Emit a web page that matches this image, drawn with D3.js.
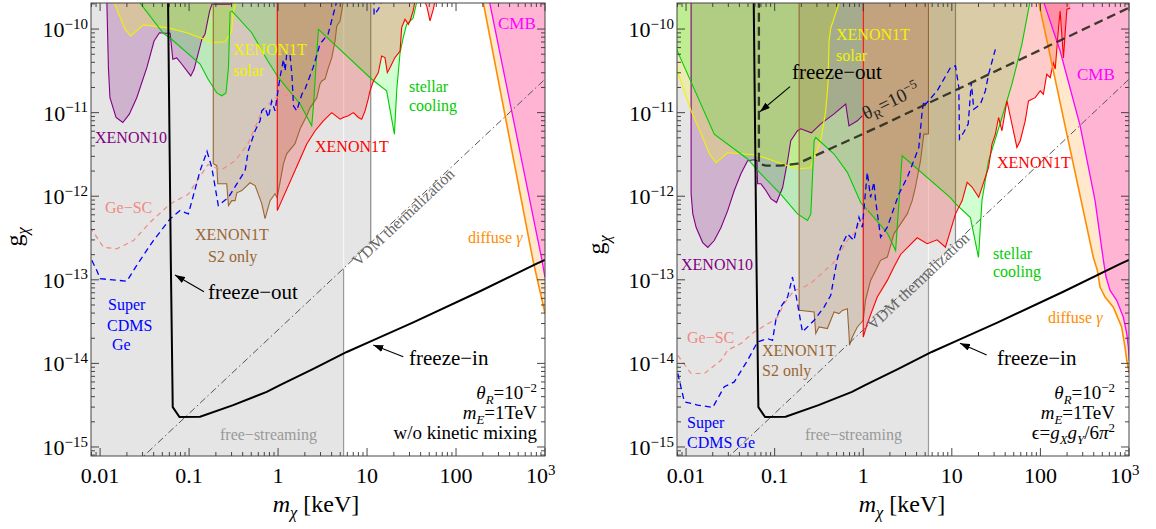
<!DOCTYPE html>
<html><head><meta charset="utf-8">
<script src="https://cdnjs.cloudflare.com/ajax/libs/d3/7.8.5/d3.min.js"></script>
<style>body{margin:0;background:#fff} text{font-family:"Liberation Serif","Times New Roman",serif}</style>
</head><body><svg id="c" width="1156" height="529" font-family="Liberation Serif, Times New Roman, serif"></svg>
<script>
// ---------- axis data ----------
const xTicks=[0.01,0.1,1,10,100,1000];
const xTickLabels=[["0.01"],["0.1"],["1"],["10"],["100"],["10",{t:"3",sup:1}]];
const yTicks=[1e-15,1e-14,1e-13,1e-12,1e-11,1e-10];
const yTickExp=["−15","−14","−13","−12","−11","−10"];
const mDomain=[0.0079,1000], gDomain=[7.8e-16,2.05e-10];
const G_TOP=1e-9;

// ---------- shared curves ----------
const freezeCurve=[[0.058,2.3e-10],[0.0623,1.71e-13],[0.0655,3.0e-15],[0.078,2.28e-15],[0.133,2.3e-15],[0.313,3.17e-15],[0.746,4.57e-15],[1.05,5.5e-15],[2.49,8.6e-15],[5.92,1.37e-14],[11.8,1.9e-14],[33.1,3.1e-14],[186,7.3e-14],[807,1.56e-13],[1000,1.73e-13]];
const vdmLine=[[0.005,1.26e-16],[2000,5.02e-11]];
const freeStreaming=[[0.005,1e-16],[5.45,1e-16],[5.45,1.37e-13],[11,2.76e-13],[11,1e-9],[0.005,1e-9]];

// ---------- left panel (w/o kinetic mixing) ----------
const xenon10L=[[0.0119,2.2e-10],[0.0124,3.45e-11],[0.0129,1.51e-11],[0.0151,8.75e-12],[0.0180,7.62e-12],[0.0213,9.6e-12],[0.0258,1.51e-11],[0.0335,3.45e-11],[0.0404,7.19e-11],[0.0464,9.04e-11],[0.0537,8.9e-11],[0.0612,8.9e-11],[0.0656,4.35e-11],[0.0727,4.52e-11],[0.0830,3.79e-11],[0.1045,2.75e-11],[0.1138,3.3e-11],[0.139,7.53e-11],[0.151,8.71e-11],[0.170,1.64e-10],[0.181,1.99e-10],[0.212,1.99e-10],[0.289,1.99e-10],[0.337,2.2e-10]];
const solarL=[[0.0140,2.2e-10],[0.0191,9.9e-11],[0.0221,8.25e-11],[0.0307,1.12e-10],[0.0561,1.04e-10],[0.0942,9.04e-11],[0.133,7.88e-11],[0.186,6.9e-11],[0.254,7.05e-11],[0.302,9.46e-11],[0.312,1.5e-10],[0.337,2.2e-10]];
const stellarL=[[0.0267,2.2e-10],[0.0510,8.96e-11],[0.0612,7.81e-11],[0.133,3.82e-11],[0.163,2.53e-11],[0.205,1.72e-11],[0.233,1.59e-11],[0.260,1.72e-11],[0.277,3.45e-11],[0.289,1.6e-10],[0.304,1.64e-10],[0.506,9.04e-11],[0.746,4.35e-11],[1.01,2.62e-11],[1.77,1.27e-11],[2.39,6.95e-12],[2.49,1.15e-11],[2.84,9.9e-11],[11.3,2.51e-11],[16.6,1.82e-11],[20.3,5.53e-12],[21.6,1.91e-11],[23.5,5.21e-11],[25.5,7.88e-11],[27.9,1.14e-10],[32.9,1.35e-10],[36.5,2.2e-10]];
const s2L=[[0.187,2.2e-10],[0.187,2.45e-12],[0.205,2.32e-12],[0.210,1.41e-12],[0.265,1.41e-12],[0.277,7.73e-13],[0.302,8.86e-13],[0.329,8.86e-13],[0.344,1.10e-12],[0.391,1.17e-12],[0.484,1.45e-12],[0.552,1.34e-12],[0.656,8.17e-13],[0.714,5.41e-13],[0.813,8.86e-13],[0.925,1.07e-12],[0.975,9.62e-13],[1.0,1.10e-12],[1.15,2.45e-12],[1.25,3.22e-12],[1.55,4.25e-12],[1.77,6.41e-12],[2.10,9.16e-12],[2.29,1.14e-11],[2.72,1.50e-11],[2.96,2.21e-11],[3.10,2.39e-11],[3.38,2.53e-11],[3.67,3.43e-11],[4.01,4.51e-11],[4.37,7.19e-11],[4.57,1.09e-10],[4.97,1.25e-10],[5.20,1.64e-10],[5.42,2.2e-10]];
const x1tL=[[0.98,2.2e-10],[0.98,6.73e-13],[1.77,2.79e-12],[2.10,4.21e-12],[2.61,6.07e-12],[3.23,7.98e-12],[4.01,1.0e-11],[4.97,8.36e-12],[5.42,8.75e-12],[6.17,9.16e-12],[7.02,1.0e-11],[7.98,8.75e-12],[8.71,8.36e-12],[9.50,1.05e-11],[10.3,1.45e-11],[10.8,1.82e-11],[11.8,2.39e-11],[13.4,3.01e-11],[14.6,4.76e-11],[15.9,4.56e-11],[16.9,3.01e-11],[18.1,3.45e-11],[20.6,4.56e-11],[23.5,5.46e-11],[24.5,1.04e-10],[26.7,1.31e-10],[29.1,1.14e-10],[30.4,1.25e-10],[32.9,1.64e-10],[34.6,2.16e-10],[40.4,2.69e-10],[46.9,1.88e-10],[51.0,1.25e-10],[55.6,1.73e-10],[59.6,2.48e-10]];
const cdmsL=[[0.00807,1.71e-13],[0.00918,1.29e-13],[0.01,1.03e-13],[0.0200,9.64e-14],[0.0258,1.49e-13],[0.0281,1.71e-13],[0.0397,2.95e-13],[0.0612,5.36e-13],[0.0792,6.73e-13],[0.0982,6.15e-13],[0.133,2.02e-12],[0.159,3.44e-12],[0.180,2.21e-12],[0.213,7.73e-13],[0.277,9.7e-13],[0.426,2.02e-12],[0.463,3.5e-12],[0.552,6.07e-12],[0.628,7.98e-12],[0.656,1.05e-11],[0.714,1.15e-11],[0.778,8.75e-12],[0.849,1.38e-11],[0.925,1.05e-11],[0.96,1.38e-11],[1.05,2.62e-11],[1.15,4.35e-11],[1.20,3.15e-11],[1.25,4.99e-11],[1.36,4.99e-11],[1.43,2.88e-11],[1.49,1.21e-11],[1.62,1.05e-11],[1.85,1.66e-11],[2.01,1.92e-11],[2.47,3.43e-11],[2.96,6.62e-11],[3.65,8.71e-11],[4.57,2.16e-10],[6.73,5.5e-10],[9.50,1.03e-9],[10.8,1.09e-9],[11.8,5.97e-10],[12.0,1.47e-10],[13.4,1.73e-10],[15.0,2.22e-10],[16.3,6.8e-10]];
const gescL=[[0.00772,4.26e-13],[0.0109,2.45e-13],[0.0154,2.35e-13],[0.0237,2.95e-13],[0.0365,4.88e-13],[0.0612,8.09e-13],[0.0982,1.06e-12],[0.1167,1.41e-12],[0.163,2.4e-12],[0.196,2.2e-12],[0.235,2.1e-12],[0.329,2.66e-12],[0.460,4.25e-12],[0.661,1.05e-11],[0.925,1.5e-11],[1.14,1.59e-11],[1.55,1.67e-11],[2.01,1.92e-11]];
const diffuseL=[[191,2.84e-10],[201,2.16e-10],[733,1.71e-13],[1000,3.97e-14]];
const cmbL=[[225,2.84e-10],[237,2.16e-10],[925,1.71e-13],[1000,1.07e-13]];

// ---------- right panel (kinetic mixing) ----------
const xenon10R=[[0.0114,2.2e-10],[0.0114,1.07e-12],[0.0119,6.2e-13],[0.0130,4.22e-13],[0.0154,2.79e-13],[0.0176,2.44e-13],[0.0208,2.95e-13],[0.0248,4.22e-13],[0.0295,6.73e-13],[0.0350,1.17e-12],[0.0416,1.86e-12],[0.0495,2.66e-12],[0.0588,2.73e-12],[0.0631,2.66e-12],[0.0642,1.41e-12],[0.0699,1.41e-12],[0.0796,1.17e-12],[0.0906,9.36e-13],[0.105,8.4e-13],[0.123,1.27e-12],[0.140,2.66e-12],[0.152,4.61e-12],[0.181,6.07e-12],[0.197,6.41e-12],[0.260,5.74e-12],[0.331,7.35e-12],[0.468,9.68e-12],[0.634,1.27e-11],[0.690,6.95e-12],[0.858,7.98e-12],[0.977,9.16e-12]];
const solarR=[[0.00678,5.17e-11],[0.0114,1.05e-11],[0.0148,5.58e-12],[0.0183,3.22e-12],[0.0218,2.52e-12],[0.0295,3.31e-12],[0.0588,3.14e-12],[0.0832,2.81e-12],[0.140,2.32e-12],[0.181,2.13e-12],[0.256,2.19e-12],[0.279,2.89e-12],[0.331,4.61e-12],[0.377,1.05e-11],[0.400,2.21e-11],[0.411,7.19e-11],[0.430,1.03e-10],[0.489,1.55e-10],[0.547,2.2e-10]];
const stellarR=[[0.00678,8.03e-11],[0.0208,5.53e-12],[0.0495,2.79e-12],[0.0699,1.85e-12],[0.117,1.06e-12],[0.181,6.15e-13],[0.235,5.12e-13],[0.256,6.15e-13],[0.279,4.61e-12],[0.291,5.04e-12],[0.468,3.2e-12],[0.662,1.93e-12],[0.935,8.4e-13],[1.32,5.6e-13],[1.88,3.58e-13],[2.32,2.24e-13],[2.75,3.05e-12],[9.64,9.62e-13],[11.0,8.17e-13],[16.2,5.56e-13],[20.0,1.85e-13],[21.9,8.86e-13],[26.0,2.66e-12],[36.8,8.75e-12],[47.7,2.19e-11],[61.8,6.57e-11],[76.7,2.2e-10]];
const s2R=[[0.189,2.2e-10],[0.189,4.31e-14],[0.279,4.12e-14],[0.291,2.28e-14],[0.317,2.73e-14],[0.394,2.61e-14],[0.468,4.12e-14],[0.532,3.94e-14],[0.582,4.31e-14],[0.662,4.52e-14],[0.690,2.28e-14],[0.70,1.65e-14],[0.753,2.07e-14],[0.858,2.73e-14],[1.0,3.28e-14],[1.06,5.68e-14],[1.21,9.84e-14],[1.38,1.29e-13],[1.57,1.71e-13],[1.87,1.87e-13],[2.22,3.55e-13],[3.14,6.15e-13],[3.57,8.86e-13],[3.89,1.29e-12],[4.43,2.66e-12],[4.83,5.53e-12],[5.23,5.53e-12],[5.45,5.58e-12],[5.45,2.2e-10]];
const x1tR=[[1.0,2.2e-10],[1.0,2.07e-14],[1.11,2.99e-14],[1.44,6.22e-14],[1.87,9.84e-14],[2.22,1.42e-13],[2.64,2.01e-13],[4.06,3.18e-13],[5.27,2.7e-13],[6.82,3.01e-13],[8.47,2.45e-13],[11.0,6.15e-13],[13.1,8.86e-13],[14.9,1.47e-12],[16.9,1.29e-12],[20.1,9.7e-13],[26.0,2.21e-12],[28.4,4.21e-12],[31.0,5.53e-12],[33.7,8.75e-12],[36.8,6.07e-12],[41.9,1.38e-11],[47.7,7.31e-12],[54.3,3.83e-12],[59.2,4.61e-12],[67.4,7.98e-12],[73.4,1.38e-11],[87.3,1.51e-11],[99.5,1.82e-11],[108,1.66e-11],[118,2.88e-11],[129,2.62e-11],[140,3.93e-11],[147,3.33e-11],[160,1.03e-10],[167,1.64e-10],[182,4.51e-11],[190,8.71e-11],[199,1.73e-10],[217,1.78e-10]];
const cdmsR=[[0.00807,7.57e-15],[0.00957,3.47e-15],[0.0135,3.17e-15],[0.0200,2.98e-15],[0.0270,5.25e-15],[0.0350,6.01e-15],[0.0495,1.09e-14],[0.0642,1.81e-14],[0.0832,1.98e-14],[0.0947,1.89e-14],[0.103,3.28e-14],[0.117,4.72e-14],[0.140,6.22e-14],[0.159,1.08e-13],[0.173,6.83e-14],[0.206,2.38e-14],[0.279,3.28e-14],[0.361,4.72e-14],[0.430,6.52e-14],[0.468,1.08e-13],[0.511,1.8e-13],[0.556,2.44e-13],[0.662,3.55e-13],[0.785,2.95e-13],[0.895,5.6e-13],[0.977,4.26e-13],[1.11,1.93e-12],[1.21,9.7e-13],[1.32,1.47e-12],[1.38,8.86e-13],[1.57,3.23e-13],[1.87,4.26e-13],[2.52,1.06e-12],[3.14,1.68e-12],[3.72,2.66e-12],[4.24,3.83e-12],[4.63,1.05e-11],[4.83,1.38e-11],[5.05,1.26e-11],[6.82,1.82e-11],[9.64,3.45e-11],[11.0,3.62e-11],[12.0,2.0e-11],[12.2,4.83e-12],[13.6,5.79e-12],[15.3,7.31e-12],[16.6,2.29e-11],[17.7,1.10e-11],[21.0,1.26e-11],[23.9,1.82e-11],[26.0,2.88e-11],[31.0,5.72e-11]];
const gescR=[[0.00807,1.25e-14],[0.0114,7.57e-15],[0.0161,7.57e-15],[0.0248,1.09e-14],[0.0295,1.44e-14],[0.0416,1.73e-14],[0.0588,2.38e-14],[0.0906,3.13e-14],[0.108,3.59e-14],[0.128,5.19e-14],[0.166,7.48e-14],[0.197,7.83e-14],[0.256,9.06e-14],[0.349,1.22e-13],[0.464,1.61e-13],[0.662,2.95e-13],[0.785,3.55e-13],[0.935,5.12e-13],[1.06,6.15e-13],[1.21,8.09e-13],[1.6,6.5e-13],[2.0,6.4e-13]];
const diffuseR=[[89.8,2.84e-10],[95.1,2.16e-10],[190,6.95e-12],[396,1.85e-13],[440,1.29e-13],[471,8.18e-14],[537,6.22e-14],[665,4.7e-14],[826,2.73e-14],[902,1.57e-14],[942,1.09e-14],[1007,7.64e-15]];
const cmbR=[[104,2.84e-10],[108,2.16e-10],[167,5.46e-11],[281,6.95e-12],[414,8.86e-13],[514,1.71e-13],[551,1.08e-13],[611,7.48e-14],[726,5.68e-14],[861,3.59e-14],[942,2.29e-14],[982,1.57e-14],[1007,1.09e-14]];
const freezeOutTheta5=[[0.0664,2.3e-10],[0.0664,2.45e-12],[0.0796,2.32e-12],[0.117,2.32e-12],[0.181,2.45e-12],[1.57,6.95e-12],[1000,1.8e-10]];

// ---------- styles ----------
const C={purple:"#800080",yellow:"#f2f200",green:"#00cc00",brown:"#996633",red:"#ff0000",orange:"#ff8c00",magenta:"#ff00ff",blue:"#0000ff",salmon:"#f08a84"};
const F={purple:"rgba(128,0,128,0.22)",yellow:"rgba(255,255,0,0.22)",green:"rgba(0,255,0,0.18)",brown:"rgba(153,102,51,0.22)",red:"rgba(255,0,0,0.2)",orange:"rgba(255,140,0,0.2)",magenta:"rgba(255,60,230,0.3)"};

const svg=d3.select("#c");
const defs=svg.append("defs");
defs.append("marker").attr("id","ah").attr("viewBox","0 0 10 7").attr("refX",10).attr("refY",3.5)
  .attr("markerWidth",10).attr("markerHeight",7).attr("markerUnits","userSpaceOnUse").attr("orient","auto")
  .append("path").attr("d","M0,0L10,3.5L0,7Z").attr("fill","#000");

function rich(sel,parts,size){
  let cur=0;
  parts.forEach(p=>{
    if(typeof p==="string") p={t:p};
    const target=p.sub?size*0.24:(p.sup?-size*0.38:0);
    const ts=sel.append("tspan").text(p.t).attr("dy",target-cur);
    cur=target;
    if(p.sub||p.sup) ts.attr("font-size",size*0.68);
    if(p.it) ts.attr("font-style","italic");
  });
}
function addLabel(L){
  const s=L.s||16;
  const t=svg.append("text").attr("x",L.x).attr("y",L.y).attr("fill",L.c||"#000").attr("font-size",s).attr("text-anchor",L.a||"start");
  if(L.r!=null) t.attr("transform",`rotate(${L.r},${L.x},${L.y})`);
  rich(t,L.p,s);
}
function arrow(a){
  svg.append("line").attr("x1",a[0]).attr("y1",a[1]).attr("x2",a[2]).attr("y2",a[3]).attr("stroke","#000").attr("stroke-width",1.1).attr("marker-end","url(#ah)");
}

function panel(P){
  const x=d3.scaleLog().domain(mDomain).range([P.x0,P.x1]);
  const y=d3.scaleLog().domain(gDomain).range([P.y1,P.y0]);
  const cid="clip"+P.id;
  defs.append("clipPath").attr("id",cid).append("rect").attr("x",P.x0).attr("y",P.y0).attr("width",P.x1-P.x0).attr("height",P.y1-P.y0);
  const g=svg.append("g").attr("clip-path",`url(#${cid})`);
  const line=d3.line().x(d=>x(d[0])).y(d=>y(d[1]));
  const above=c=>[...c,[c[c.length-1][0],G_TOP],[c[0][0],G_TOP]];
  const rightOf=c=>[...c,[1e5,c[c.length-1][1]],[1e5,G_TOP],[c[0][0],G_TOP]];
  // free streaming
  g.append("path").attr("d",line(freeStreaming)+"Z").attr("fill","#e5e5e5");
  g.append("path").attr("d",line([freeStreaming[1],freeStreaming[2]])).attr("stroke","#9a9a9a").attr("stroke-width",1.2);
  g.append("path").attr("d",line([freeStreaming[2],[freeStreaming[2][0],G_TOP]])).attr("stroke","#f6f6f6").attr("stroke-width",1.2);
  g.append("path").attr("d",line([freeStreaming[3],freeStreaming[4]])).attr("stroke","#8a8a8a").attr("stroke-width",1.2);
  // gamma-ray bounds
  g.append("path").attr("d",line(rightOf(P.diffuse))+"Z").attr("fill",F.orange);
  g.append("path").attr("d",line(rightOf(P.cmb))+"Z").attr("fill",F.magenta);
  // regions
  const regs=[[P.xenon10,"purple"],[P.solar,"yellow"],[P.stellar,"green"],[P.s2,"brown"],[P.x1t,"red"]];
  regs.forEach(([c,k])=>g.append("path").attr("d",line(above(c))+"Z").attr("fill",F[k]));
  regs.forEach(([c,k])=>g.append("path").attr("d",line(c)).attr("fill","none").attr("stroke",C[k]).attr("stroke-width",1.1));
  g.append("path").attr("d",line(P.diffuse)).attr("fill","none").attr("stroke",C.orange).attr("stroke-width",1.6);
  g.append("path").attr("d",line(P.cmb)).attr("fill","none").attr("stroke",C.magenta).attr("stroke-width",1.3);
  // projections
  g.append("path").attr("d",line(P.gesc)).attr("fill","none").attr("stroke",C.salmon).attr("stroke-width",1.2).attr("stroke-dasharray","5,4");
  g.append("path").attr("d",line(P.cdms)).attr("fill","none").attr("stroke",C.blue).attr("stroke-width",1.3).attr("stroke-dasharray","6,4");
  // VDM thermalization
  g.append("path").attr("d",line(vdmLine)).attr("fill","none").attr("stroke","#555").attr("stroke-width",1).attr("stroke-dasharray","7,3,1.5,3");
  // freeze curves
  if(P.dashed) g.append("path").attr("d",line(P.dashed)).attr("fill","none").attr("stroke","#2a2a1c").attr("stroke-opacity",0.9).attr("stroke-width",2.3).attr("stroke-dasharray","9,5");
  g.append("path").attr("d",line(freezeCurve)).attr("fill","none").attr("stroke","#000").attr("stroke-width",2);

  // frame and ticks
  const fr=svg.append("g");
  const tk=(x1,y1,x2,y2)=>fr.append("line").attr("x1",x1).attr("y1",y1).attr("x2",x2).attr("y2",y2).attr("stroke","#333").attr("stroke-width",0.9);
  x.ticks().forEach(v=>{
    const major=xTicks.some(t=>Math.abs(t-v)/t<1e-6);
    const L=major?8:4, px=x(v);
    if(px<P.x0-0.5||px>P.x1+0.5) return;
    tk(px,P.y1,px,P.y1-L); tk(px,P.y0,px,P.y0+L);
  });
  y.ticks().forEach(v=>{
    const major=yTicks.some(t=>Math.abs(t-v)/t<1e-6);
    const L=major?8:4, py=y(v);
    if(py<P.y0-0.5||py>P.y1+0.5) return;
    tk(P.x0,py,P.x0+L,py); tk(P.x1,py,P.x1-L,py);
  });
  fr.append("rect").attr("x",P.x0).attr("y",P.y0).attr("width",P.x1-P.x0).attr("height",P.y1-P.y0).attr("fill","none").attr("stroke","#444").attr("stroke-width",1);
  xTicks.forEach((v,i)=>{
    const lab=xTickLabels[i];
    if(lab.length>1) addLabel({x:x(v)-19,y:483,s:22,p:lab});
    else addLabel({x:x(v),y:483,s:22,a:"middle",p:lab});
  });
  yTicks.forEach((v,i)=>addLabel({x:P.x0-3,y:y(v)+8,s:22,a:"end",p:["10",{t:yTickExp[i],sup:1}]}));
  P.labels.forEach(addLabel);
  P.arrows.forEach(arrow);
}

const panels=[
 {id:"L",x0:91,x1:545,y0:3,y1:456,xenon10:xenon10L,solar:solarL,stellar:stellarL,s2:s2L,x1t:x1tL,cdms:cdmsL,gesc:gescL,diffuse:diffuseL,cmb:cmbL,dashed:null,
  arrows:[[204,291.7,175,275],[403.3,356.7,373.3,345]],
  labels:[
   {x:95,y:143,c:C.purple,p:["XENON10"]},
   {x:233,y:55,c:C.yellow,p:["XENON1T"]},{x:233,y:76,c:C.yellow,p:["solar"]},
   {x:409,y:92,c:C.green,p:["stellar"]},{x:409,y:111,c:C.green,p:["cooling"]},
   {x:315,y:152,c:C.red,p:["XENON1T"]},
   {x:105,y:213,c:C.salmon,p:["Ge−SC"]},
   {x:195,y:240,c:C.brown,p:["XENON1T"]},{x:208,y:262,c:C.brown,p:["S2 only"]},
   {x:108,y:310,c:C.blue,p:["Super"]},{x:107,y:331,c:C.blue,p:["CDMS"]},{x:112,y:350,c:C.blue,p:["Ge"]},
   {x:498,y:29,c:C.magenta,s:17,p:["CMB"]},
   {x:468,y:243,c:C.orange,p:["diffuse ",{t:"γ",it:1}]},
   {x:208,y:299,s:21,p:["freeze−out"]},
   {x:409,y:365,s:21,p:["freeze−in"]},
   {x:220,y:440,c:"#999",p:["free−streaming"]},
   {x:407,y:221,c:"#666",a:"middle",r:-43.3,p:["VDM thermalization"]},
   {x:537,y:399,s:19,a:"end",p:[{t:"θ",it:1},{t:"R",it:1,sub:1},"=10",{t:"−2",sup:1}]},
   {x:537,y:419,s:19,a:"end",p:[{t:"m",it:1},{t:"E",it:1,sub:1},"=1TeV"]},
   {x:537,y:439,s:19,a:"end",p:["w/o kinetic mixing"]},
   {x:22,y:237,s:24,a:"middle",r:-90,p:["g",{t:"χ",it:1,sub:1}]},
   {x:316,y:512,s:24,a:"middle",p:[{t:"m",it:1},{t:"χ",it:1,sub:1}," [keV]"]}
  ]},
 {id:"R",x0:677,x1:1129,y0:3,y1:456,xenon10:xenon10R,solar:solarR,stellar:stellarR,s2:s2R,x1t:x1tR,cdms:cdmsR,gesc:gescR,diffuse:diffuseR,cmb:cmbR,dashed:freezeOutTheta5,
  arrows:[[790,86.7,760,111.7],[986.7,355,960,343.3]],
  labels:[
   {x:681,y:270,c:C.purple,p:["XENON10"]},
   {x:836,y:40,c:C.yellow,p:["XENON1T"]},{x:836,y:61,c:C.yellow,p:["solar"]},
   {x:993,y:259,c:C.green,p:["stellar"]},{x:993,y:277,c:C.green,p:["cooling"]},
   {x:997,y:168,c:C.red,p:["XENON1T"]},
   {x:687,y:343,c:C.salmon,p:["Ge−SC"]},
   {x:762,y:356,c:C.brown,p:["XENON1T"]},{x:762,y:376,c:C.brown,p:["S2 only"]},
   {x:687,y:428,c:C.blue,p:["Super"]},{x:687,y:448,c:C.blue,p:["CDMS Ge"]},
   {x:1077,y:80,c:C.magenta,s:17,p:["CMB"]},
   {x:1048,y:323,c:C.orange,p:["diffuse ",{t:"γ",it:1}]},
   {x:792,y:79,s:21,p:["freeze−out"]},
   {x:997,y:365,s:21,p:["freeze−in"]},
   {x:805,y:440,c:"#999",p:["free−streaming"]},
   {x:922,y:285,c:"#666",a:"middle",r:-43.3,p:["VDM thermalization"]},
   {x:866,y:120,s:19,c:"#222",r:-26,p:[{t:"θ"},{t:"R",sub:1},"=10",{t:"−5",sup:1}]},
   {x:1115,y:399,s:19,a:"end",p:[{t:"θ",it:1},{t:"R",it:1,sub:1},"=10",{t:"−2",sup:1}]},
   {x:1115,y:419,s:19,a:"end",p:[{t:"m",it:1},{t:"E",it:1,sub:1},"=1TeV"]},
   {x:1115,y:439,s:19,a:"end",p:["ϵ=",{t:"g",it:1},{t:"X",it:1,sub:1},{t:"g",it:1},{t:"Y",it:1,sub:1},"/6",{t:"π",it:1},{t:"2",sup:1}]},
   {x:604,y:245,s:24,a:"middle",r:-90,p:["g",{t:"χ",it:1,sub:1}]},
   {x:902,y:512,s:24,a:"middle",p:[{t:"m",it:1},{t:"χ",it:1,sub:1}," [keV]"]}
  ]}
];
panels.forEach(panel);
</script></body></html>
